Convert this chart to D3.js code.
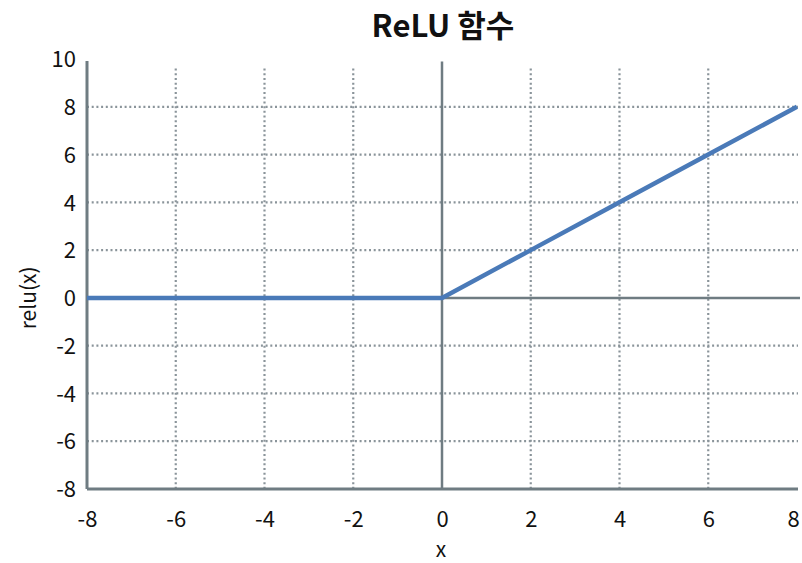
<!DOCTYPE html>
<html><head><meta charset="utf-8">
<script src="https://cdn.jsdelivr.net/npm/d3@7"></script>
<style>body{margin:0;background:#fff}svg{display:block}</style>
</head><body>
<script>
const xValues = [-8, -6, -4, -2, 0, 2, 4, 6, 8];
const yValues = [0, 0, 0, 0, 0, 2, 4, 6, 8];
const xTicks = [-8, -6, -4, -2, 0, 2, 4, 6, 8];
const yTicks = [-8, -6, -4, -2, 0, 2, 4, 6, 8, 10];
const xGrid = [-6, -4, -2, 2, 4, 6];
const yGrid = [-6, -4, -2, 2, 4, 6, 8];
const title = "ReLU 함수", xLabel = "x", yLabel = "relu(x)";

const W = 802, H = 563;
const m = {l: 87, r: 5, t: 59, b: 74};
const svg = d3.select("body").append("svg").attr("width", W).attr("height", H);
const x = d3.scaleLinear().domain([-8, 8]).range([m.l, 797]);
const y = d3.scaleLinear().domain([-8, 10]).range([H - m.b, m.t]);
const font = "'Noto Sans CJK KR','Noto Sans',sans-serif";
const axisCol = "#6f7c82", gridCol = "#8a949a";

svg.append("text").attr("x", 443).attr("y", 37).attr("text-anchor", "middle")
  .attr("font-family", font).attr("font-weight", "bold").attr("font-size", 31)
  .attr("fill", "#111").text(title);

const g = svg.append("g");
// grid
g.selectAll(".vg").data(xGrid).join("line")
  .attr("x1", d => x(d)).attr("x2", d => x(d)).attr("y1", y(9.6)).attr("y2", y(-8))
  .attr("stroke", gridCol).attr("stroke-width", 2.2).attr("stroke-dasharray", "2,2.7");
g.selectAll(".hg").data(yGrid).join("line")
  .attr("y1", d => y(d)).attr("y2", d => y(d)).attr("x1", x(-8)).attr("x2", 798)
  .attr("stroke", gridCol).attr("stroke-width", 2.2).attr("stroke-dasharray", "2,2.7");

// zero lines
g.append("line").attr("x1", x(0)).attr("x2", x(0)).attr("y1", y(9.9)).attr("y2", y(-8))
  .attr("stroke", axisCol).attr("stroke-width", 2.5);
g.append("line").attr("x1", x(-8)).attr("x2", 800).attr("y1", y(0)).attr("y2", y(0))
  .attr("stroke", axisCol).attr("stroke-width", 2.5);

// axes
const fmt = d => String(d);
const xAxis = svg.append("g").attr("transform", `translate(0,${y(-8)})`)
  .call(d3.axisBottom(x).tickValues(xTicks).tickSize(0).tickPadding(22).tickFormat(fmt));
const yAxis = svg.append("g").attr("transform", `translate(${x(-8)},0)`)
  .call(d3.axisLeft(y).tickValues(yTicks).tickSize(0).tickPadding(11).tickFormat(fmt));
[xAxis, yAxis].forEach(a => {
  a.select(".domain").attr("stroke", axisCol).attr("stroke-width", 3);
  a.selectAll("text").attr("font-family", font).attr("font-size", 22).attr("fill", "#111");
});
xAxis.select(".domain").attr("d", `M${x(-8)},0H798`);
yAxis.select(".domain").attr("d", `M0,${y(-8)}V${y(10) + 2}`);
yAxis.selectAll("text").attr("dy", "0.35em");
xAxis.selectAll(".tick").filter(d => d === 8).select("text").attr("dx", -4);

// line
const pts = xValues.map((v, i) => [v, yValues[i]]);
svg.append("path").datum(pts)
  .attr("d", d3.line().x(d => x(d[0])).y(d => y(d[1])))
  .attr("fill", "none").attr("stroke", "#4a7ab8").attr("stroke-width", 4.5);

// labels
svg.append("text").attr("x", 441).attr("y", 557).attr("text-anchor", "middle")
  .attr("font-family", font).attr("font-size", 21).attr("fill", "#111").text(xLabel);
svg.append("text").attr("transform", `translate(36,${y(0)}) rotate(-90)`).attr("text-anchor", "middle")
  .attr("font-family", font).attr("font-size", 21).attr("fill", "#111").text(yLabel);
</script>
</body></html>
